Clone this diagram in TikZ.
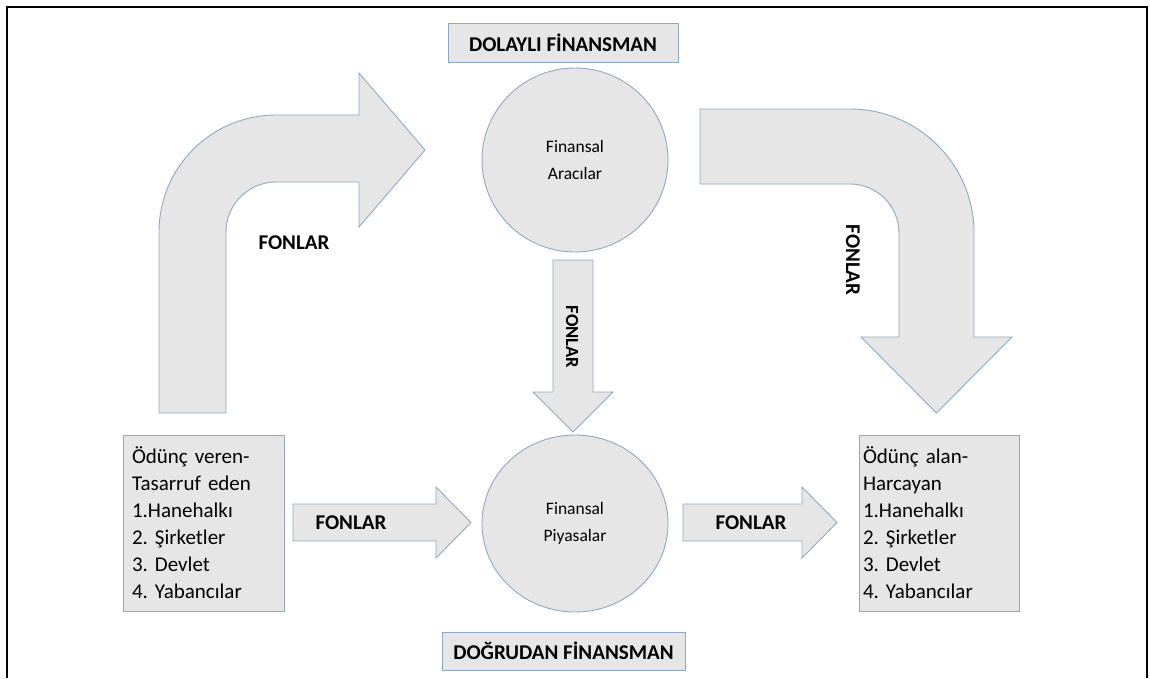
\documentclass[tikz,border=0pt]{standalone}
\usepackage{fontspec}
\setmainfont{Carlito}
\frenchspacing
\usetikzlibrary{shapes.geometric}
\definecolor{fillc}{RGB}{231,230,230}
\definecolor{strokec}{RGB}{140,168,198}
\tikzset{
  shapefill/.style={fill=fillc, draw=strokec, line width=0.9pt, line join=miter},
  titlebox/.style={shapefill, rectangle, inner sep=0pt, font=\fontsize{21}{24}\selectfont\bfseries},
  oval/.style={shapefill, ellipse, inner sep=0pt, align=center, font=\fontsize{17.5}{27}\selectfont},
  listbox/.style={shapefill, rectangle, align=left, inner ysep=0pt, font=\fontsize{21}{27}\selectfont},
  flabel/.style={font=\fontsize{21}{24}\selectfont\bfseries, inner sep=0pt},
  vlabel/.style={font=\fontsize{18.5}{20}\selectfont\bfseries, inner sep=0pt, rotate=-90}
}
\begin{document}
\begin{tikzpicture}[x=1pt,y=-1pt]
\useasboundingbox (0,0) rectangle (1150,678);
% frame
\draw[line width=2.5pt, black] (7,678) -- (7,7) -- (1147,7) -- (1147,678);

% title boxes
\node[titlebox, minimum width=230pt, minimum height=39pt] (dolayli) at (563,42.5) {DOLAYLI FİNANSMAN};
\node[titlebox, minimum width=243pt, minimum height=38pt] (dogrudan) at (563.5,651) {DOĞRUDAN FİNANSMAN};

% ellipses
\node[oval, minimum width=186pt, minimum height=184pt] (aracilar) at (575,160) {Finansal\\Aracılar};
\node[oval, minimum width=186pt, minimum height=177pt] (piyasalar) at (575,523.5) {Finansal\\Piyasalar};

% list boxes
\node[listbox, inner xsep=9pt, text width=143pt, minimum height=176pt] (veren) at (203.5,523)
  {Ödünç veren-\\Tasarruf eden\\1.Hanehalkı\\2. Şirketler\\3. Devlet\\4. Yabancılar};
\node[listbox, inner xsep=4pt, text width=152pt, minimum height=176pt] (alan) at (939,523)
  {Ödünç alan-\\Harcayan\\1.Hanehalkı\\2. Şirketler\\3. Devlet\\4. Yabancılar};

% bent arrow left (up then right)
\draw[shapefill] (159,413) -- (159,232) .. controls (159,167.4) and (211.4,115) .. (276,115)
  -- (359,115) -- (359,73) -- (425,150) -- (359,227) -- (359,182) -- (276,182)
  .. controls (248.4,182) and (226,204.4) .. (226,232) -- (226,413) -- cycle;
\node[flabel] (f1) at (294,243) {FONLAR};

% bent arrow right (right then down)
\draw[shapefill] (700,109) -- (850,109) .. controls (918.5,109) and (974,164.5) .. (974,233)
  -- (974,337) -- (1012,337) -- (936.5,413) -- (861,337) -- (899,337) -- (899,233)
  .. controls (899,206) and (877,184) .. (850,184) -- (700,184) -- cycle;
\node[vlabel, font=\fontsize{21}{24}\selectfont\bfseries] (f2) at (853,260) {FONLAR};

% middle down arrow
\draw[shapefill] (553,260) -- (593,260) -- (593,392) -- (613,392) -- (573,432) -- (533,392) -- (553,392) -- cycle;
\node[vlabel] (f3) at (572,337) {FONLAR};

% horizontal arrows
\draw[shapefill] (293,504) -- (436,504) -- (436,487) -- (471,522.5) -- (436,558) -- (436,541) -- (293,541) -- cycle;
\node[flabel] (f4) at (351,523) {FONLAR};
\draw[shapefill] (683,504) -- (802,504) -- (802,487) -- (837,522.5) -- (802,558) -- (802,541) -- (683,541) -- cycle;
\node[flabel] (f5) at (751,523) {FONLAR};
\end{tikzpicture}
\end{document}
